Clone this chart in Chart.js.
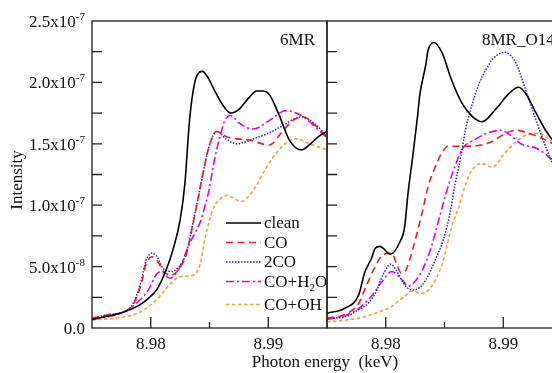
<!DOCTYPE html>
<html>
<head>
<meta charset="utf-8">
<title>Fe K-edge XANES: 6MR and 8MR_O14</title>
<script src="https://cdn.jsdelivr.net/npm/chart.js@4.4.1/dist/chart.umd.min.js"></script>
<style>
  html, body { margin: 0; padding: 0; background: #fff; overflow: hidden; }
  #wrap { position: relative; width: 552px; height: 373px; overflow: hidden; }
  #left { position: absolute; left: 0; top: 0; }
  #right { position: absolute; left: 317px; top: 0; }
  #xtitle {
    position: absolute; left: 200px; width: 250px; top: 352px;
    text-align: center; white-space: pre; color: #111;
    font: 17px "Liberation Serif", serif; line-height: 20px;
  }
</style>
</head>
<body>
<div id="wrap">
  <canvas id="left" width="330" height="373"></canvas>
  <canvas id="right" width="260" height="373"></canvas>
  <div id="xtitle">Photon energy  (keV)</div>
</div>
<script>
// photon energy range of each panel (keV)
const energyMin = 8.975
const energyMax = 8.995
const xTickValues = [8.98, 8.99]
const xMinorTicks = [8.985]

// intensities are kept in units of 1e-7
const yMax = 2.5
const yTickValues = [0.25, 0.5, 0.75, 1, 1.25, 1.5, 1.75, 2, 2.25]
const yLabelValues = [0, 0.5, 1, 1.5, 2, 2.5]
const yLabelText = ['0.0', '5.0x10', '1.0x10', '1.5x10', '2.0x10', '2.5x10']
const yLabelExp = ['', '-8', '-7', '-7', '-7', '-7']

const seriesNames = ['clean', 'CO', '2CO', 'CO+H\u2082O', 'CO+OH']

// panel 6MR: [energy keV, intensity 1e-7]
const mr6Clean = [[8.975, 0.07], [8.9765, 0.10], [8.9777, 0.13], [8.9791, 0.19], [8.9799, 0.25], [8.9805, 0.31], [8.9813, 0.47], [8.9819, 0.64], [8.9825, 0.88], [8.9829, 1.17], [8.9833, 1.69], [8.9837, 1.98], [8.9841, 2.08], [8.9844, 2.09], [8.9848, 2.05], [8.9854, 1.94], [8.9861, 1.82], [8.9868, 1.75], [8.9875, 1.78], [8.9884, 1.88], [8.989, 1.93], [8.9895, 1.93], [8.9901, 1.90], [8.9909, 1.74], [8.9918, 1.53], [8.9928, 1.45], [8.9936, 1.50], [8.9943, 1.56], [8.995, 1.60]]
const mr6CO = [[8.975, 0.08], [8.9765, 0.11], [8.9777, 0.13], [8.9785, 0.19], [8.9792, 0.36], [8.9796, 0.52], [8.9801, 0.58], [8.9806, 0.54], [8.9811, 0.46], [8.9818, 0.43], [8.9823, 0.47], [8.983, 0.59], [8.9836, 0.85], [8.9842, 1.14], [8.9846, 1.33], [8.985, 1.49], [8.9856, 1.60], [8.9865, 1.555], [8.9884, 1.53], [8.9901, 1.49], [8.9912, 1.60], [8.9921, 1.69], [8.9929, 1.72], [8.994, 1.65], [8.995, 1.55]]
const mr6TwoCO = [[8.975, 0.08], [8.9765, 0.11], [8.9777, 0.13], [8.9785, 0.20], [8.9792, 0.39], [8.9796, 0.55], [8.9801, 0.61], [8.9806, 0.57], [8.981, 0.49], [8.9818, 0.46], [8.9823, 0.49], [8.983, 0.60], [8.9836, 0.86], [8.9842, 1.14], [8.9846, 1.33], [8.985, 1.49], [8.9856, 1.60], [8.9864, 1.54], [8.9873, 1.50], [8.989, 1.55], [8.9901, 1.59], [8.9909, 1.63], [8.9929, 1.72], [8.994, 1.66], [8.995, 1.56]]
const mr6H2O = [[8.975, 0.07], [8.9777, 0.13], [8.9791, 0.23], [8.9798, 0.31], [8.9805, 0.44], [8.9809, 0.46], [8.9816, 0.405], [8.9825, 0.50], [8.9833, 0.69], [8.9837, 0.76], [8.9842, 0.86], [8.9846, 0.99], [8.985, 1.14], [8.9854, 1.36], [8.9859, 1.56], [8.9863, 1.69], [8.9868, 1.73], [8.9875, 1.67], [8.9887, 1.62], [8.9901, 1.69], [8.9915, 1.77], [8.9926, 1.74], [8.9935, 1.68], [8.995, 1.55]]
const mr6OH = [[8.975, 0.065], [8.9777, 0.09], [8.9791, 0.13], [8.9805, 0.23], [8.9813, 0.32], [8.9822, 0.405], [8.9827, 0.42], [8.9836, 0.43], [8.9842, 0.52], [8.9846, 0.72], [8.985, 0.88], [8.9854, 0.99], [8.9859, 1.05], [8.9864, 1.08], [8.987, 1.06], [8.9877, 1.03], [8.9884, 1.08], [8.989, 1.16], [8.9898, 1.30], [8.9909, 1.45], [8.9918, 1.525], [8.9924, 1.54], [8.9935, 1.50], [8.995, 1.45]]

// panel 8MR_O14
const mr8Clean = [[8.975, 0.12], [8.9765, 0.16], [8.9777, 0.27], [8.9782, 0.45], [8.9788, 0.57], [8.9791, 0.65], [8.9795, 0.665], [8.9804, 0.60], [8.9812, 0.70], [8.9816, 0.82], [8.9819, 1.10], [8.9823, 1.40], [8.9827, 1.72], [8.9829, 1.90], [8.9834, 2.14], [8.9836, 2.26], [8.9841, 2.325], [8.9848, 2.24], [8.9856, 2.02], [8.9865, 1.83], [8.9874, 1.72], [8.9882, 1.68], [8.9893, 1.775], [8.9905, 1.91], [8.9913, 1.96], [8.9919, 1.91], [8.9928, 1.75], [8.9936, 1.61], [8.9942, 1.53], [8.995, 1.45]]
const mr8CO = [[8.975, 0.08], [8.9765, 0.11], [8.9777, 0.20], [8.9782, 0.31], [8.9791, 0.50], [8.9798, 0.60], [8.9805, 0.61], [8.9809, 0.53], [8.9813, 0.45], [8.9817, 0.47], [8.9822, 0.61], [8.9831, 0.94], [8.9836, 1.15], [8.9842, 1.31], [8.9848, 1.43], [8.9853, 1.48], [8.9868, 1.48], [8.9881, 1.49], [8.9891, 1.52], [8.9902, 1.585], [8.9911, 1.61], [8.9923, 1.58], [8.9932, 1.55], [8.9942, 1.50], [8.995, 1.46]]
const mr8TwoCO = [[8.975, 0.08], [8.9765, 0.09], [8.9777, 0.15], [8.9785, 0.20], [8.9791, 0.28], [8.9798, 0.44], [8.9804, 0.52], [8.9809, 0.47], [8.9813, 0.40], [8.9818, 0.33], [8.9823, 0.31], [8.9829, 0.33], [8.9834, 0.39], [8.9842, 0.55], [8.9849, 0.72], [8.9855, 0.95], [8.9859, 1.17], [8.9864, 1.40], [8.9868, 1.62], [8.9872, 1.77], [8.9879, 1.98], [8.9885, 2.10], [8.9891, 2.19], [8.9897, 2.235], [8.9902, 2.245], [8.9907, 2.21], [8.9911, 2.155], [8.9919, 1.94], [8.9928, 1.69], [8.9936, 1.48], [8.9942, 1.34], [8.995, 1.22]]
const mr8H2O = [[8.975, 0.07], [8.9765, 0.10], [8.9777, 0.16], [8.9788, 0.26], [8.9797, 0.38], [8.9805, 0.46], [8.9814, 0.39], [8.9819, 0.34], [8.9825, 0.38], [8.9831, 0.47], [8.9838, 0.635], [8.9842, 0.77], [8.9848, 0.98], [8.9853, 1.15], [8.9861, 1.37], [8.9866, 1.47], [8.9875, 1.53], [8.9886, 1.585], [8.9898, 1.61], [8.9906, 1.57], [8.9915, 1.50], [8.9929, 1.46], [8.9942, 1.37], [8.995, 1.32]]
const mr8OH = [[8.975, 0.05], [8.9777, 0.08], [8.9794, 0.13], [8.9804, 0.17], [8.9815, 0.25], [8.9822, 0.30], [8.9831, 0.28], [8.9839, 0.34], [8.9848, 0.52], [8.9856, 0.82], [8.9862, 0.98], [8.9868, 1.17], [8.9873, 1.28], [8.9881, 1.34], [8.9891, 1.31], [8.99, 1.41], [8.9909, 1.50], [8.9919, 1.57], [8.9928, 1.585], [8.9936, 1.56], [8.9942, 1.51], [8.995, 1.45]]

const font = '"Liberation Serif", "Times New Roman", serif'
const lineStyles = [
  { color: '#000000', dash: [], width: 1.6 },
  { color: '#ee1c24', dash: [7, 4.5], width: 1.6 },
  { color: '#2424d0', dash: [1.5, 1.5], width: 1.5 },
  { color: '#e600e6', dash: [8, 3, 2, 3], width: 1.6 },
  { color: '#f2a03a', dash: [3.5, 2.5], width: 1.6 }
]

// text with "₂" drawn as a lowered small 2
function drawLabel(ctx, text, x, baseline) {
  const parts = text.split('\u2082')
  let cx = x
  parts.forEach((part, i) => {
    ctx.font = `17px ${font}`
    ctx.fillText(part, cx, baseline)
    cx += ctx.measureText(part).width
    if (i < parts.length - 1) {
      ctx.font = `11px ${font}`
      ctx.fillText('2', cx, baseline + 4)
      cx += ctx.measureText('2').width
    }
  })
}

const decor = {
  id: 'decor',
  afterDatasetsDraw(chart, args, opts) {
    const { ctx, chartArea: a } = chart
    const xs = chart.scales.x
    const ys = chart.scales.y
    ctx.save()
    ctx.setLineDash([])
    ctx.strokeStyle = '#1e1e1e'
    ctx.lineWidth = 1.3
    ctx.strokeRect(a.left, a.top, a.right - a.left, a.bottom - a.top)

    // inward ticks
    ctx.beginPath()
    yTickValues.forEach((v) => {
      const py = ys.getPixelForValue(v)
      ctx.moveTo(a.left, py)
      ctx.lineTo(a.left + 10, py)
    })
    xTickValues.forEach((v) => {
      const px = xs.getPixelForValue(v)
      ctx.moveTo(px, a.bottom)
      ctx.lineTo(px, a.bottom - 11)
    })
    xMinorTicks.forEach((v) => {
      const px = xs.getPixelForValue(v)
      ctx.moveTo(px, a.bottom)
      ctx.lineTo(px, a.bottom - 6)
    })
    ctx.stroke()

    ctx.fillStyle = '#111'
    ctx.textBaseline = 'alphabetic'

    // panel name
    ctx.font = `17px ${font}`
    if (opts.titleAlign === 'right') {
      ctx.textAlign = 'right'
      ctx.fillText(opts.title, a.right + opts.titleX, 45)
    } else {
      ctx.textAlign = 'left'
      ctx.fillText(opts.title, a.left + opts.titleX, 45)
    }
    ctx.textAlign = 'left'

    if (opts.axisLabels) {
      yLabelValues.forEach((v, i) => {
        const py = ys.getPixelForValue(v)
        ctx.font = `17px ${font}`
        const w1 = ctx.measureText(yLabelText[i]).width
        ctx.font = `11px ${font}`
        const w2 = yLabelExp[i] ? ctx.measureText(yLabelExp[i]).width : 0
        const x0 = a.left - 7 - w1 - w2
        ctx.font = `17px ${font}`
        ctx.fillText(yLabelText[i], x0, py + 6)
        if (yLabelExp[i]) {
          ctx.font = `11px ${font}`
          ctx.fillText(yLabelExp[i], x0 + w1, py - 1)
        }
      })
      ctx.save()
      ctx.translate(18, 180)
      ctx.rotate(-Math.PI / 2)
      ctx.font = `17px ${font}`
      ctx.textAlign = 'center'
      ctx.textBaseline = 'middle'
      ctx.fillText('Intensity', 0, 0)
      ctx.restore()
    }

    if (opts.legend) {
      let rowY = 223
      chart.data.datasets.forEach((ds) => {
        ctx.beginPath()
        ctx.strokeStyle = ds.borderColor
        ctx.lineWidth = ds.borderWidth
        ctx.setLineDash(ds.borderDash)
        ctx.moveTo(226, rowY)
        ctx.lineTo(261, rowY)
        ctx.stroke()
        ctx.setLineDash([])
        ctx.fillStyle = '#111'
        drawLabel(ctx, ds.label, 264, rowY + 5)
        rowY += 19.5 + (ds.label.includes('\u2082') ? 3.5 : 0)
      })
    }
    ctx.restore()
  }
}

function makePanel(canvasId, series, decorOpts, yWidth, padRight) {
  return new Chart(document.getElementById(canvasId), {
    type: 'line',
    data: {
      datasets: series.map((points, i) => ({
        label: seriesNames[i],
        data: points.map(([e, v]) => ({ x: e, y: v })),
        borderColor: lineStyles[i].color,
        borderDash: lineStyles[i].dash,
        borderWidth: lineStyles[i].width,
        pointRadius: 0,
        cubicInterpolationMode: 'monotone',
        fill: false
      }))
    },
    options: {
      responsive: false,
      animation: false,
      events: [],
      layout: { padding: { top: 21, right: padRight, left: 0, bottom: 0 } },
      plugins: {
        legend: { display: false },
        tooltip: { enabled: false },
        decor: decorOpts
      },
      scales: {
        x: {
          type: 'linear',
          min: energyMin,
          max: energyMax,
          grid: { display: false, drawTicks: false },
          border: { display: false },
          afterBuildTicks: (s) => { s.ticks = xTickValues.map((v) => ({ value: v })) },
          afterFit: (s) => { s.height = 45 },
          ticks: {
            font: { family: font, size: 17 },
            color: '#111',
            padding: 6,
            maxRotation: 0,
            callback: (v) => Number(v).toFixed(2)
          }
        },
        y: {
          min: 0,
          max: yMax,
          grid: { display: false, drawTicks: false },
          border: { display: false },
          ticks: { display: false },
          afterFit: (s) => { s.width = yWidth }
        }
      }
    },
    plugins: [decor]
  })
}

makePanel('left', [mr6Clean, mr6CO, mr6TwoCO, mr6H2O, mr6OH],
  { title: '6MR', titleAlign: 'right', titleX: -12, axisLabels: true, legend: true }, 92, 3)
makePanel('right', [mr8Clean, mr8CO, mr8TwoCO, mr8H2O, mr8OH],
  { title: '8MR_O14', titleAlign: 'left', titleX: 155, axisLabels: false, legend: false }, 10, 15)
</script>
</body>
</html>
